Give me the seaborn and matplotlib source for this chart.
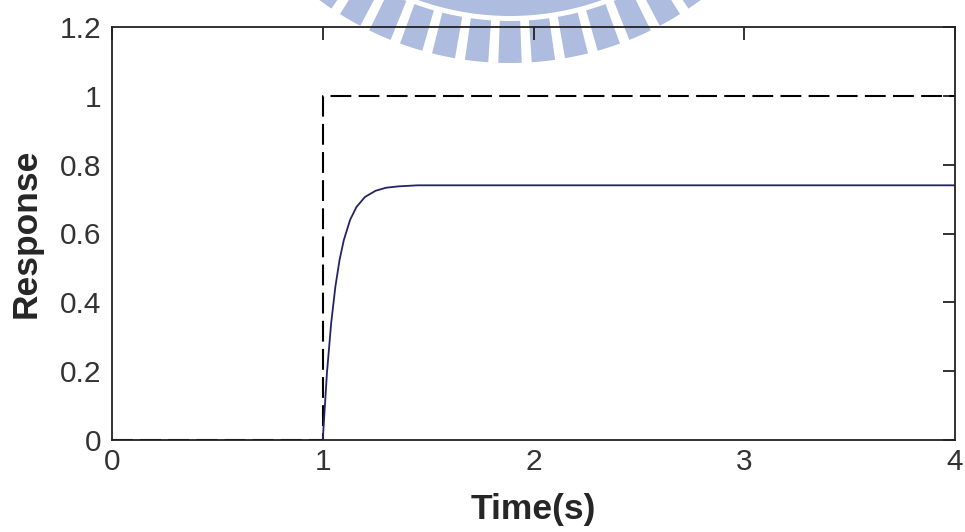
import numpy as np
import pandas as pd
import seaborn as sns
import matplotlib
matplotlib.use("Agg")
import matplotlib.pyplot as plt
from matplotlib.patches import Wedge
from matplotlib.transforms import IdentityTransform

# Reference input: unit step applied at t = 1 s
step_t = [0.0, 1.0, 1.0, 4.0]
step_r = [0.0, 0.0, 1.0, 1.0]

# Measured output response
resp_t = [1.00, 1.02, 1.04, 1.06, 1.08, 1.10, 1.13, 1.16, 1.20, 1.25, 1.30, 1.36, 1.45, 4.00]
resp_y = [0.000, 0.196, 0.340, 0.446, 0.524, 0.581, 0.640, 0.677, 0.706, 0.724, 0.733, 0.737, 0.740, 0.740]

x_ticks = [0, 1, 2, 3, 4]
y_ticks = [0, 0.2, 0.4, 0.6, 0.8, 1, 1.2]
y_tick_labels = ["0", "0.2", "0.4", "0.6", "0.8", "1", "1.2"]

sns.set_style("white")
plt.rcParams["font.family"] = ["Liberation Sans", "DejaVu Sans"]

W, H, DPI = 965, 532, 100
fig = plt.figure(figsize=(W / DPI, H / DPI), dpi=DPI, facecolor="white")
ax = fig.add_axes([112 / W, 1 - 440 / H, (955 - 112) / W, (440 - 27) / H])
ax.set_facecolor("none")

# Institutional seal printed behind the plot (pixel coordinates)
seal_color = "#adbcdf"
cx, cy = 510, H + 257
fig.add_artist(Wedge((cx, cy), 273, 200, 340, width=40, transform=IdentityTransform(),
                     facecolor=seal_color, edgecolor="none", zorder=-5))
for ang in np.arange(270 - 6.0 * 6, 270 + 6.0 * 6 + 0.1, 6.0):
    fig.add_artist(Wedge((cx, cy), 320, ang - 2.1, ang + 2.1, width=42,
                         transform=IdentityTransform(), facecolor=seal_color,
                         edgecolor="none", zorder=-5))

step_df = pd.DataFrame({"t": step_t, "r": step_r})
resp_df = pd.DataFrame({"t": resp_t, "y": resp_y})

sns.lineplot(data=step_df, x="t", y="r", ax=ax, estimator=None, sort=False,
             color="black", linewidth=1.5, dashes=False)
ax.lines[-1].set_dashes((10, 3.5))
sns.lineplot(data=resp_df, x="t", y="y", ax=ax, estimator=None, sort=False,
             color="#23236b", linewidth=1.3)

ax.set_xlim(0, 4)
ax.set_ylim(0, 1.2)
ax.set_xticks(x_ticks)
ax.set_xticklabels([str(v) for v in x_ticks])
ax.set_yticks(y_ticks)
ax.set_yticklabels(y_tick_labels)

for s in ax.spines.values():
    s.set_visible(True)
    s.set_color("#222222")
    s.set_linewidth(1.3)

ax.tick_params(axis="both", direction="in", length=9, width=1.3, color="#222222",
               labelsize=21.5, labelcolor="#333333", top=True, right=True)
ax.tick_params(axis="x", pad=6)
ax.tick_params(axis="y", pad=8)

ax.set_xlabel("Time(s)", fontsize=25.5, fontweight="semibold", labelpad=12)
ax.set_ylabel("Response", fontsize=25.5, fontweight="semibold", labelpad=12)

fig.savefig("out.png", dpi=DPI, facecolor="white")
